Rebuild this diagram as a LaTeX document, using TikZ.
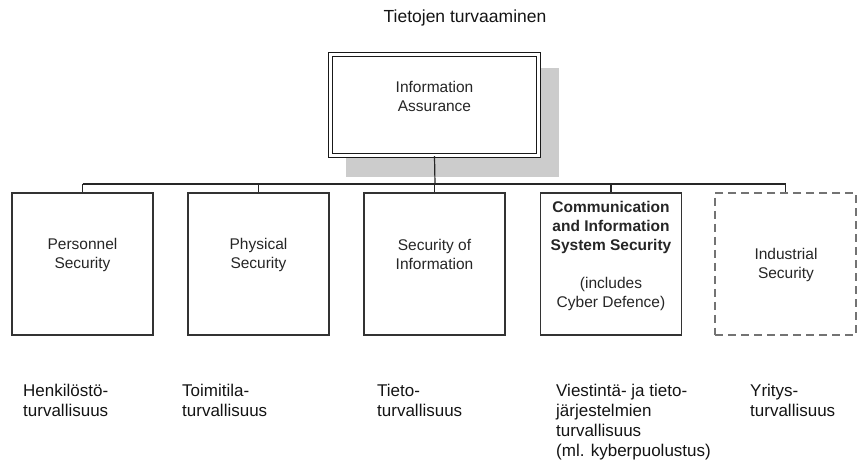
\documentclass[tikz,border=0pt]{standalone}
\usepackage{fontspec}
\setmainfont{Liberation Sans}
\begin{document}
\begin{tikzpicture}[x=1pt,y=-1pt,
  box/.style={draw=black!80, line width=1.1pt, minimum width=141pt, minimum height=142pt, inner sep=0pt, fill=white},
  boxtext/.style={font=\fontsize{15.5}{19}\selectfont, align=center, text=black!85, inner sep=0pt},
  fitext/.style={font=\fontsize{17}{20}\selectfont, align=left, anchor=north west, inner sep=0pt, text=black!92},
  conn/.style={draw=black!85, line width=1.2pt}]
\useasboundingbox (0,0) rectangle (857,462);
% title
\node[font=\fontsize{17.5}{21}\selectfont, text=black!92] (title) at (465,18) {Tietojen turvaaminen};
% shadow and top box
\fill[black!20] (346,68) rectangle (559,177);
\node[draw=black!90, line width=1.2pt, double=white, double distance=2.4pt, minimum width=208pt, minimum height=101pt, fill=white, inner sep=0pt] (ia) at (434.5,105) {};
\node[boxtext] (iat) at (434.5,96) {Information\\Assurance};
% child boxes
\node[box] (c1) at (82.5,264) {};
\node[box] (c2) at (258.5,264) {};
\node[box] (c3) at (434.5,264) {};
\node[box] (c4) at (611,264) {};
\node[box, draw=black!55, dash pattern=on 8pt off 5pt, line width=1.7pt] (c5) at (785.5,264) {};
\node[boxtext] (t1) at (82.5,254.5) {Personnel\\Security};
\node[boxtext] (t2) at (258.5,254.5) {Physical\\Security};
\node[boxtext] (t3) at (434.5,254.5) {Security of\\Information};
\node[boxtext] (t4) at (611,255.5) {\textbf{Communication}\\\textbf{and Information}\\\textbf{System Security}\\[19pt](includes\\Cyber Defence)};
\node[boxtext] (t5) at (786,264.5) {Industrial\\Security};
% connectors
\coordinate (bus) at (435,184);
\draw[conn] (ia.south) -- (bus);
\draw[conn] (bus -| c1.north) -- (bus -| c5.north);
\foreach \c in {c1,c2,c3,c4,c5} {\draw[conn] (bus -| \c.north) -- (\c.north);}
% Finnish labels
\node[fitext] (f1) at (23,384) {Henkilöstö-\\turvallisuus};
\node[fitext] (f2) at (182,384) {Toimitila-\\turvallisuus};
\node[fitext] (f3) at (377,384) {Tieto-\\turvallisuus};
\node[fitext] (f4) at (556,384) {Viestintä- ja tieto-\\järjestelmien\\turvallisuus\\(ml. kyberpuolustus)};
\node[fitext] (f5) at (750,384) {Yritys-\\turvallisuus};
\end{tikzpicture}
\end{document}
